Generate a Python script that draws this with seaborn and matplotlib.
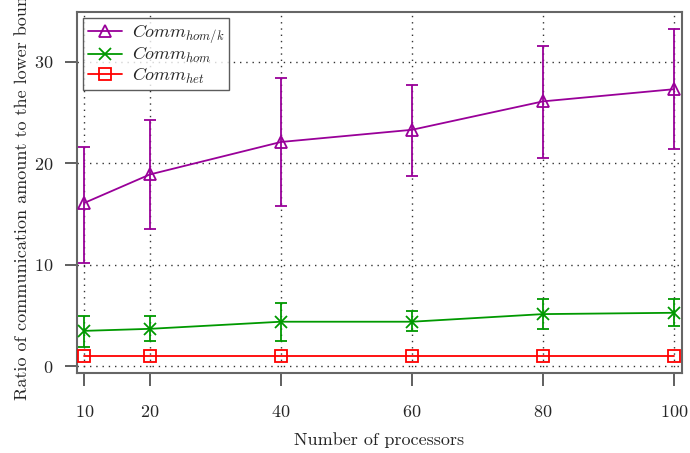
import matplotlib
matplotlib.use("Agg")
import matplotlib.pyplot as plt
import seaborn as sns
import numpy as np
import pandas as pd

processors = [10, 20, 40, 60, 80, 100]

homk_mean = [16.1, 18.9, 22.1, 23.3, 26.1, 27.3]
homk_low = [10.2, 13.5, 15.8, 18.75, 20.5, 21.4]
homk_high = [21.6, 24.3, 28.4, 27.7, 31.6, 33.2]

hom_mean = [3.5, 3.7, 4.4, 4.4, 5.15, 5.28]
hom_low = [1.9, 2.46, 2.5, 3.44, 3.68, 3.93]
hom_high = [5.0, 5.0, 6.2, 5.5, 6.66, 6.66]

het_mean = [1.0, 1.0, 1.0, 1.0, 1.0, 1.0]
het_low = [0.95, 0.95, 0.95, 0.95, 0.95, 0.95]
het_high = [1.05, 1.05, 1.05, 1.05, 1.05, 1.05]

labels = [r"$Comm_{hom/k}$", r"$Comm_{hom}$", r"$Comm_{het}$"]
colors = ["#990099", "#009900", "#ff0000"]
markers = ["^", "x", "s"]

sns.set_theme(style="white")
plt.rcParams["font.family"] = ["cmr10", "DejaVu Serif"]
plt.rcParams["mathtext.fontset"] = "cm"
plt.rcParams["axes.formatter.use_mathtext"] = True

fig = plt.figure(figsize=(6.9, 4.53), dpi=100)
ax = fig.add_axes([77 / 690, 80 / 453, (682 - 77) / 690, (373 - 12) / 453])

series = [
    (homk_mean, homk_low, homk_high),
    (hom_mean, hom_low, hom_high),
    (het_mean, het_low, het_high),
]

for (m, lo, hi), lab, c, mk in zip(series, labels, colors, markers):
    df = pd.DataFrame({"p": processors, "v": m})
    sns.lineplot(data=df, x="p", y="v", ax=ax, color=c, marker=mk,
                 markersize=8 if mk != "x" else 9, markerfacecolor="none",
                 markeredgecolor=c, markeredgewidth=1.3, linewidth=1.3,
                 label=lab, zorder=3)
    m_arr = np.array(m)
    yerr = np.vstack([m_arr - np.array(lo), np.array(hi) - m_arr])
    if mk != "s":
        ax.errorbar(processors, m, yerr=yerr, fmt="none", ecolor=c,
                    elinewidth=1.3, capsize=4, capthick=1.3, zorder=3)

ax.set_xlim(8.88, 101.2)
ax.set_ylim(-0.65, 34.9)
ax.set_xticks(processors)
ax.set_yticks([0, 10, 20, 30])
ax.grid(True, color="#333333", linestyle=(0, (1, 3.5)), linewidth=1.0)
for s in ax.spines.values():
    s.set_color("#666666")
    s.set_linewidth(1.5)
ax.tick_params(axis="x", direction="out", length=9, width=1.2, color="#444444",
               pad=13, labelsize=13, bottom=True)
ax.tick_params(axis="y", direction="out", length=9, width=1.2, color="#444444",
               pad=8, labelsize=13, left=True)
ax.set_xlabel("Number of processors", fontsize=13, labelpad=9)
ax.set_ylabel("Ratio of communication amount to the lower bound", fontsize=13,
              labelpad=3)

leg = ax.legend(loc="upper left", fontsize=13, frameon=True, fancybox=False,
                borderaxespad=0.35, handlelength=1.9, labelspacing=0.0,
                borderpad=0.25, handletextpad=0.55)
leg.get_frame().set_edgecolor("#333333")
leg.get_frame().set_linewidth(1.0)

fig.savefig("out.png", dpi=100)
